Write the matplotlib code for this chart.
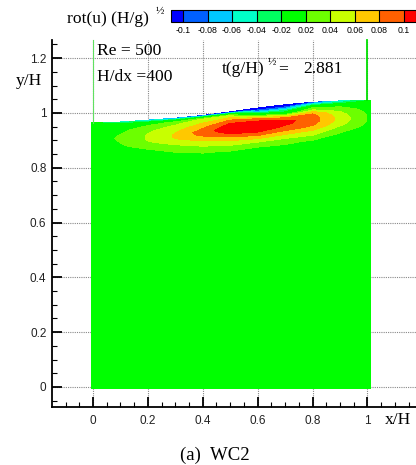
import numpy as np
import matplotlib
matplotlib.use('Agg')
import matplotlib.pyplot as plt
from matplotlib.colors import ListedColormap, BoundaryNorm
from matplotlib.cm import ScalarMappable
from matplotlib.ticker import MultipleLocator, FixedLocator

# ---------------- data ----------------
surf_x = [-0.005, 0.1, 0.2, 0.3, 0.4, 0.5, 0.6, 0.7, 0.8, 0.9, 1.013]
surf_y = [0.965, 0.967, 0.974, 0.981, 0.991, 1.004, 1.018, 1.030, 1.039, 1.044, 1.047]
depth = [0, 0.004, 0.008, 0.014, 0.02, 0.03, 0.04, 0.05, 0.06, 0.07,
         0.08, 0.09, 0.10, 0.12, 0.14, 0.17, 0.20, 0.25]
bottom_y = -0.007

# vorticity rot(u)(H/g)^1/2, one row per surf_x column, one value per depth
vort = [
    [-0.015, -0.008, -0.002, 0.003, 0.006, 0.009, 0.011, 0.012, 0.012, 0.011, 0.010, 0.009, 0.008, 0.006, 0.004, 0.002, 0.001, 0.0],
    [-0.045, -0.030, -0.015, 0.000, 0.008, 0.014, 0.018, 0.021, 0.022, 0.021, 0.019, 0.016, 0.013, 0.008, 0.005, 0.002, 0.001, 0.0],
    [-0.065, -0.040, -0.015, 0.008, 0.020, 0.030, 0.036, 0.040, 0.042, 0.042, 0.038, 0.031, 0.023, 0.013, 0.008, 0.003, 0.001, 0.0],
    [-0.085, -0.050, -0.010, 0.025, 0.035, 0.044, 0.052, 0.058, 0.062, 0.062, 0.056, 0.046, 0.037, 0.022, 0.012, 0.005, 0.002, 0.0],
    [-0.110, -0.050, 0.010, 0.042, 0.050, 0.062, 0.072, 0.082, 0.090, 0.085, 0.074, 0.062, 0.052, 0.032, 0.018, 0.008, 0.003, 0.0],
    [-0.130, -0.070, 0.000, 0.045, 0.058, 0.080, 0.098, 0.108, 0.114, 0.110, 0.099, 0.082, 0.066, 0.042, 0.021, 0.010, 0.004, 0.0],
    [-0.150, -0.120, -0.095, -0.070, -0.025, 0.040, 0.085, 0.105, 0.118, 0.122, 0.112, 0.096, 0.080, 0.045, 0.021, 0.009, 0.003, 0.0],
    [-0.140, -0.120, -0.100, -0.075, -0.045, -0.005, 0.045, 0.090, 0.106, 0.104, 0.095, 0.085, 0.072, 0.043, 0.022, 0.010, 0.004, 0.0],
    [-0.100, -0.075, -0.045, -0.010, 0.020, 0.045, 0.078, 0.086, 0.090, 0.089, 0.083, 0.076, 0.062, 0.040, 0.018, 0.008, 0.003, 0.0],
    [-0.060, -0.045, -0.025, 0.000, 0.018, 0.031, 0.041, 0.048, 0.052, 0.052, 0.048, 0.041, 0.031, 0.017, 0.009, 0.004, 0.002, 0.0],
    [-0.015, -0.010, -0.004, 0.002, 0.006, 0.010, 0.012, 0.014, 0.015, 0.015, 0.014, 0.012, 0.010, 0.006, 0.004, 0.002, 0.001, 0.0],
]

levels = [-1.0, -0.1, -0.08, -0.06, -0.04, -0.02, 0.02, 0.04, 0.06, 0.08, 0.1, 1.0]
level_colors = ['#0000ff', '#0060ff', '#00c8ff', '#00ffc8', '#00ff60', '#00ff00',
                '#6cff00', '#c8ff00', '#ffc800', '#ff6000', '#ff0000']
cbar_ticks = [-0.1, -0.08, -0.06, -0.04, -0.02, 0.02, 0.04, 0.06, 0.08, 0.1]
cbar_labels = ['-0.1', '-0.08', '-0.06', '-0.04', '-0.02', '0.02', '0.04', '0.06', '0.08', '0.1']
wall_x = [0.0, 1.0]
wall_colors = ['#60e060', '#00e000']
x_ticks = [0, 0.2, 0.4, 0.6, 0.8, 1]
y_ticks = [0, 0.2, 0.4, 0.6, 0.8, 1, 1.2]
x_ticklabels = ['0', '0.2', '0.4', '0.6', '0.8', '1']
y_ticklabels = ['0', '0.2', '0.4', '0.6', '0.8', '1', '1.2']
time_value = '2.881'

# ---------------- build grid ----------------
sx = np.array(surf_x)
sy = np.array(surf_y)
d = np.array(depth)
V = np.array(vort).T                      # rows: depth, cols: x
X = np.tile(sx, (len(d) + 1, 1))
Y = np.vstack([sy[None, :] - d[:, None], np.full((1, len(sx)), bottom_y)])
Z = np.vstack([V, np.zeros((1, len(sx)))])

serif = ['Liberation Serif', 'DejaVu Serif']
sans = ['Liberation Sans', 'DejaVu Sans']

fig = plt.figure(figsize=(4.16, 4.65), dpi=100)
ax = fig.add_axes([52 / 416, 58 / 465, 364 / 416, 367 / 465])
ax.set_xlim(-0.1494, 1.177)
ax.set_ylim(-0.073, 1.2664)

ax.contourf(X, Y, Z, levels=levels, colors=level_colors, zorder=2, antialiased=False)

for wx, wc, lw in zip(wall_x, wall_colors, [0.8, 1.3]):
    ytop = np.interp(wx, sx, sy)
    ax.plot([wx, wx], [ytop, 1.2664], color=wc, lw=lw, zorder=3, clip_on=False)

# axes styling
for s in ['top', 'right']:
    ax.spines[s].set_visible(False)
for s in ['left', 'bottom']:
    ax.spines[s].set_linewidth(1.3)
ax.xaxis.set_major_locator(FixedLocator(x_ticks))
ax.yaxis.set_major_locator(FixedLocator(y_ticks))
ax.set_xticklabels(x_ticklabels)
ax.set_yticklabels(y_ticklabels)
ax.xaxis.set_minor_locator(MultipleLocator(0.05))
ax.yaxis.set_minor_locator(MultipleLocator(0.05))
ax.tick_params(which='major', direction='in', length=7, width=1.3, labelsize=8.5, pad=4,
               labelcolor='#222222')
ax.tick_params(which='minor', direction='in', length=3.6, width=0.8)
ax.tick_params(axis='x', pad=6)
for lab in ax.get_xticklabels() + ax.get_yticklabels():
    lab.set_family(sans)
ax.grid(True, which='major', color='#888888', linestyle=(0, (1, 1)), linewidth=0.8, zorder=1)
ax.set_axisbelow(True)

# axis labels
fig.text(398 / 416, 1 - 420 / 465, 'x/H', family=serif, fontsize=12.6, ha='center', va='center')
fig.text(29 / 416, 1 - 81 / 465, 'y/H', family=serif, fontsize=12.6, ha='center', va='center')

# annotations
fig.text(97 / 416, 1 - 51 / 465, 'Re = 500', family=serif, fontsize=12.6, ha='left', va='center')
fig.text(97 / 416, 1 - 77 / 465, 'H/dx =400', family=serif, fontsize=12.6, ha='left', va='center')
fig.text(222 / 416, 1 - 69 / 465, 't(g/H)', family=serif, fontsize=12.6, ha='left', va='center')
fig.text(268 / 416, 1 - 62 / 465, '½', family=serif, fontsize=8, ha='left', va='center')
fig.text(278 / 416, 1 - 69 / 465, '=', family=serif, fontsize=12.6, ha='left', va='center')
fig.text(303 / 416, 1 - 69 / 465, time_value, family=serif, fontsize=12.6, ha='left', va='center')
fig.text(67 / 416, 1 - 19 / 465, 'rot(u) (H/g)', family=serif, fontsize=12.6, ha='left', va='center')
fig.text(156 / 416, 1 - 11 / 465, '½', family=serif, fontsize=8, ha='left', va='center')
fig.text(215 / 416, 1 - 455 / 465, '(a)  WC2', family=serif, fontsize=13.5, ha='center', va='center')

# colorbar
cmap = ListedColormap(level_colors[1:-1])
cmap.set_under(level_colors[0])
cmap.set_over(level_colors[-1])
norm = BoundaryNorm(cbar_ticks, cmap.N)
sm = ScalarMappable(norm=norm, cmap=cmap)
cax = fig.add_axes([171 / 416, 1 - 22 / 465, 245 / 416, 12 / 465])
cb = fig.colorbar(sm, cax=cax, orientation='horizontal', extend='both', extendrect=True,
                  extendfrac=0.054, spacing='uniform', drawedges=True, ticks=cbar_ticks)
cb.outline.set_linewidth(0.8)
cb.dividers.set_linewidth(0.8)
cb.set_ticklabels(cbar_labels)
cax.tick_params(length=0, labelsize=6.3, pad=3)
for lab in cax.get_xticklabels():
    lab.set_family(sans)

fig.savefig('out.png', dpi=100)
